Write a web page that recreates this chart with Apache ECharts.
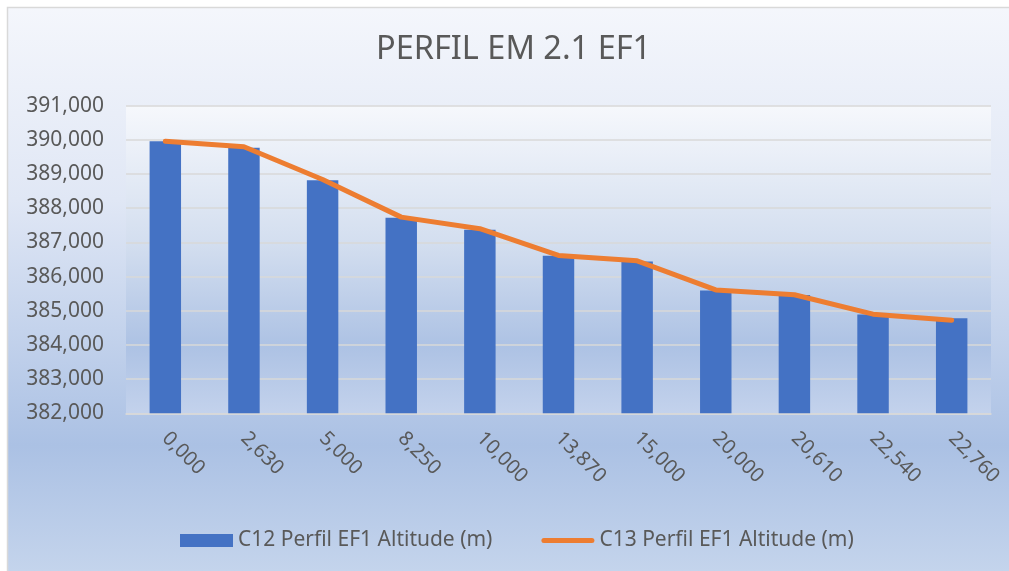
<!DOCTYPE html>
<html>
<head>
<meta charset="utf-8">
<script src="https://cdn.jsdelivr.net/npm/echarts@6/dist/echarts.min.js"></script>
<style>
html,body{margin:0;padding:0;background:#fff;}
#chart{width:1009px;height:571px;}
</style>
</head>
<body>
<div id="chart"></div>
<script>
const categories = ['0,000','2,630','5,000','8,250','10,000','13,870','15,000','20,000','20,610','22,540','22,760'];
const c12Values = [389960, 389770, 388820, 387720, 387370, 386610, 386440, 385590, 385460, 384890, 384780];
const c13Values = [389960, 389800, 388840, 387740, 387400, 386620, 386460, 385610, 385470, 384900, 384720];
const seriesNames = ['C12 Perfil EF1 Altitude (m)', 'C13 Perfil EF1 Altitude (m)'];
const chartTitle = 'PERFIL EM 2.1 EF1';

const FONT = '"Noto Sans", sans-serif';
const TXT = '#595959';
function fmt(v){ return String(v).replace(/\B(?=(\d{3})+(?!\d))/g, ','); }

const chart = echarts.init(document.getElementById('chart'), null, {renderer:'canvas'});
chart.setOption({
  animation: false,
  backgroundColor: new echarts.graphic.LinearGradient(0,0,0,1,[
    {offset:0, color:'#f5f7fc'},
    {offset:0.35, color:'#e0e7f5'},
    {offset:0.78, color:'#abc1e4'},
    {offset:1, color:'#c4d4ec'}
  ]),
  graphic: [
    {type:'rect', shape:{x:0,y:0,width:1009,height:7}, style:{fill:'#ffffff'}, z:100, silent:true},
    {type:'rect', shape:{x:0,y:0,width:7,height:571}, style:{fill:'#ffffff'}, z:100, silent:true},
    {type:'rect', shape:{x:7.5,y:7.5,width:1020,height:600}, style:{fill:'none', stroke:'#d9d9d9', lineWidth:1.5}, z:101, silent:true}
  ],
  title: {
    text: chartTitle,
    left: 371, top: 28,
    textStyle: {fontFamily: FONT, fontSize: 32.5, fontWeight: 'normal', color: TXT}
  },
  legend: {
    left: 175, top: 525,
    itemGap: 49,
    itemWidth: 53, itemHeight: 13,
    textStyle: {fontFamily: FONT, fontSize: 21, color: TXT},
    data: [
      {name: seriesNames[0], icon: 'rect'},
      {name: seriesNames[1], icon: 'path://M2.5,0 L50.5,0 A2.5,2.5 0 0 1 50.5,5 L2.5,5 A2.5,2.5 0 0 1 2.5,0 Z'}
    ]
  },
  grid: {
    left: 126, right: 18, top: 105.7, bottom: 157.7,
    show: true, borderWidth: 0,
    backgroundColor: new echarts.graphic.LinearGradient(0,0,0,1,[
      {offset:0, color:'#f6f8fc'},
      {offset:0.45, color:'#d3deef'},
      {offset:0.78, color:'#adc2e4'},
      {offset:1, color:'#c3d2ec'}
    ])
  },
  xAxis: {
    type: 'category',
    data: categories,
    axisLine: {show: true, lineStyle: {color: '#d9d9d9', width: 1.5}},
    axisTick: {show: false},
    axisLabel: {rotate: -45, margin: 22, fontFamily: FONT, fontSize: 20, color: TXT, interval: 0}
  },
  yAxis: {
    type: 'value',
    min: 382000, max: 391000, interval: 1000,
    axisLine: {show: false},
    axisTick: {show: false},
    splitLine: {lineStyle: {color: '#d9d9d9', width: 1.5}},
    axisLabel: {margin: 22, fontFamily: FONT, fontSize: 21, color: TXT, formatter: fmt}
  },
  series: [
    {
      name: seriesNames[0], type: 'bar', data: c12Values,
      barWidth: '40%',
      itemStyle: {color: '#4472c4'}
    },
    {
      name: seriesNames[1], type: 'line', data: c13Values,
      symbol: 'none', showSymbol: false,
      lineStyle: {color: '#ed7d31', width: 5, cap: 'round', join: 'round'},
      itemStyle: {color: '#ed7d31'}
    }
  ]
});
</script>
</body>
</html>
